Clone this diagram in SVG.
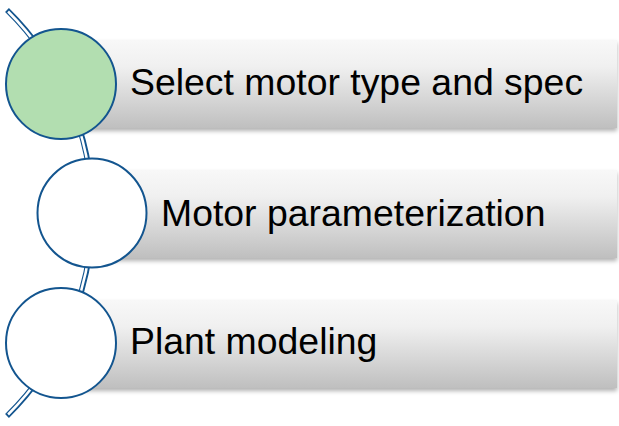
<svg xmlns="http://www.w3.org/2000/svg" width="619" height="426" viewBox="0 0 619 426">
  <style>
    .bar { fill: url(#barGrad); filter: url(#shadow); }
    .node { stroke: #13558f; stroke-width: 2; }
    .label { font-family: "Liberation Sans", Arial, sans-serif; font-size: 37.4px; fill: #000000; }
  </style>
  <defs>
    <linearGradient id="barGrad" x1="0" y1="0" x2="0" y2="1">
      <stop offset="0" stop-color="#f8f8f8"/>
      <stop offset="0.3" stop-color="#f0f0f0"/>
      <stop offset="1" stop-color="#bfbfbf"/>
    </linearGradient>
    <filter id="shadow" x="-5%" y="-10%" width="110%" height="130%">
      <feDropShadow dx="0" dy="3" stdDeviation="2" flood-color="#000000" flood-opacity="0.3"/>
    </filter>
  </defs>
  <rect width="619" height="426" fill="#ffffff"/>
  <g id="connectors">
    <path d="M 7 10 A 284 284 0 0 1 7 416" fill="none" stroke="#13558f" stroke-width="5.5"/>
    <path d="M 8.1 11.5 A 284 284 0 0 1 8.1 414.5" fill="none" stroke="#ffffff" stroke-width="2.5"/>
  </g>
  <g id="step1">
    <rect class="bar" x="61" y="40" width="556" height="88"/>
    <circle class="node" cx="61" cy="84" r="55" fill="#b2deb0"/>
    <text class="label" x="130" y="95">Select motor type and spec</text>
  </g>
  <g id="step2">
    <rect class="bar" x="92" y="170" width="525" height="88"/>
    <circle class="node" cx="92" cy="213" r="54.5" fill="#ffffff"/>
    <text class="label" x="161" y="226">Motor parameterization</text>
  </g>
  <g id="step3">
    <rect class="bar" x="61" y="300" width="556" height="88"/>
    <circle class="node" cx="61" cy="343" r="55" fill="#ffffff"/>
    <text class="label" x="130" y="354">Plant modeling</text>
  </g>
</svg>
